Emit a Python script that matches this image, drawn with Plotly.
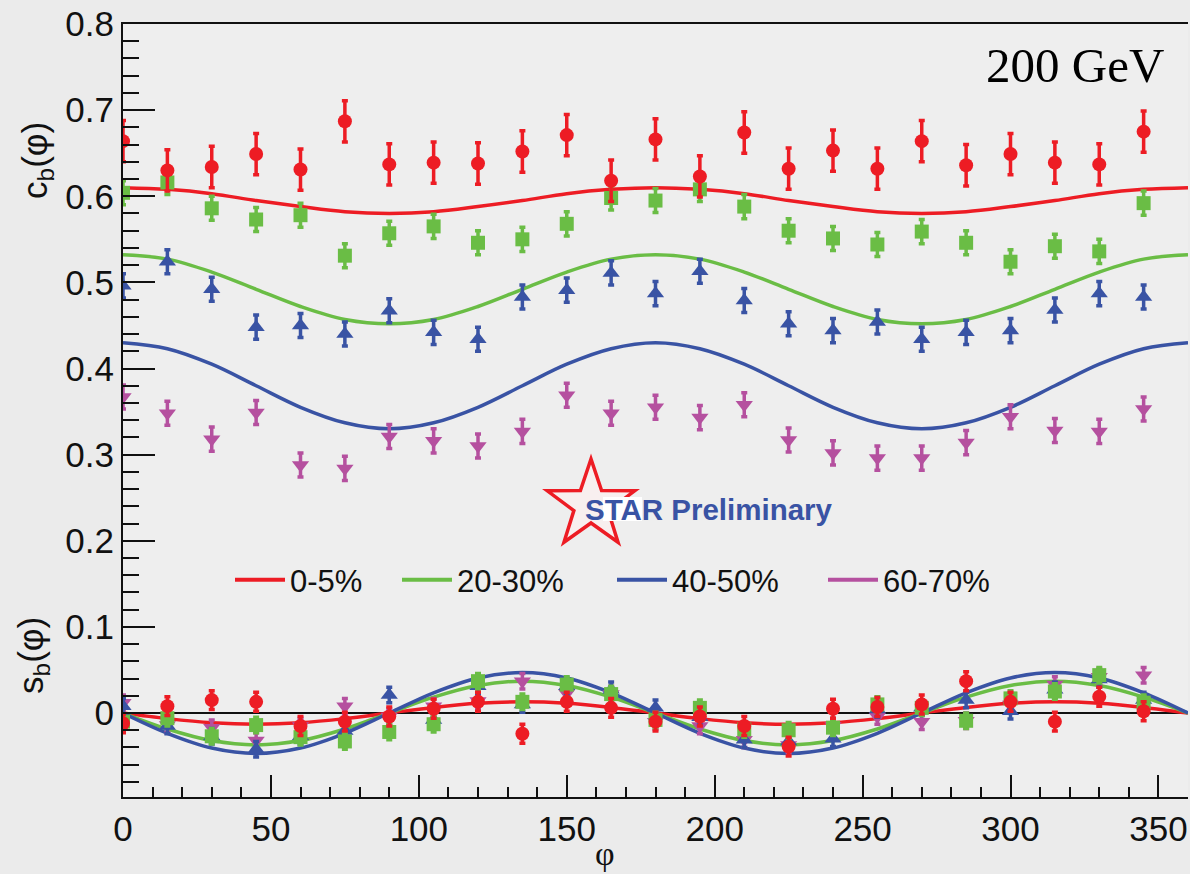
import math
import plotly.graph_objects as go

# ---------------- data ----------------
phi = [0, 15, 30, 45, 60, 75, 90, 105, 120, 135, 150, 165,
       180, 195, 210, 225, 240, 255, 270, 285, 300, 315, 330, 345]

c_05 = [0.664, 0.630, 0.634, 0.649, 0.631, 0.687, 0.637, 0.639, 0.638, 0.652, 0.671, 0.618,
        0.666, 0.623, 0.674, 0.632, 0.653, 0.632, 0.664, 0.636, 0.649, 0.639, 0.637, 0.675]
c_05_err = 0.024
c_2030 = [0.604, 0.616, 0.586, 0.573, 0.578, 0.531, 0.557, 0.565, 0.546, 0.550, 0.568, 0.598,
          0.595, 0.608, 0.588, 0.560, 0.551, 0.544, 0.559, 0.546, 0.524, 0.542, 0.536, 0.592]
c_2030_err = 0.014
c_4050 = [0.496, 0.524, 0.492, 0.448, 0.450, 0.440, 0.467, 0.442, 0.434, 0.483, 0.491, 0.511,
          0.487, 0.513, 0.479, 0.452, 0.444, 0.454, 0.434, 0.442, 0.444, 0.468, 0.487, 0.483]
c_4050_err = 0.014
c_6070 = [0.367, 0.348, 0.318, 0.349, 0.288, 0.284, 0.321, 0.316, 0.310, 0.327, 0.369, 0.348,
          0.355, 0.343, 0.358, 0.317, 0.302, 0.296, 0.296, 0.314, 0.344, 0.328, 0.327, 0.353]
c_6070_err = 0.014

s_05 = [-0.012, 0.008, 0.015, 0.013, -0.015, -0.010, -0.004, 0.005, 0.013, -0.024, 0.013, 0.006,
        -0.010, -0.004, -0.015, -0.039, 0.005, 0.007, 0.010, 0.037, 0.013, -0.010, 0.019, 0.002]
s_05_err = 0.011
s_2030 = [-0.010, -0.006, -0.027, -0.014, -0.028, -0.033, -0.022, -0.013, 0.037, 0.013, 0.033, 0.022,
          -0.008, 0.006, -0.019, -0.020, -0.017, 0.010, 0.006, -0.009, 0.017, 0.025, 0.044, 0.012]
s_2030_err = 0.009
s_4050 = [0.008, -0.015, -0.027, -0.042, -0.027, -0.021, 0.021, -0.008, 0.031, 0.010, 0.031, 0.027,
          0.006, -0.005, -0.031, -0.033, -0.030, 0.004, 0.006, 0.015, 0.002, 0.027, 0.039, 0.015]
s_4050_err = 0.009
s_6070 = [0.012, -0.014, -0.017, -0.032, -0.015, 0.008, -0.004, 0.008, 0.014, 0.037, 0.023, 0.022,
          -0.010, -0.015, -0.031, -0.037, -0.015, -0.004, -0.010, -0.009, 0.010, 0.033, 0.042, 0.044]
s_6070_err = 0.009

# fit curves (every 15 degrees)
phi_fit = [0, 15, 30, 45, 60, 75, 90, 105, 120, 135, 150, 165, 180,
           195, 210, 225, 240, 255, 270, 285, 300, 315, 330, 345, 360]
cfit_05 = [0.610, 0.608, 0.603, 0.595, 0.588, 0.582, 0.580, 0.582, 0.588, 0.595, 0.603, 0.608, 0.610,
           0.608, 0.603, 0.595, 0.588, 0.582, 0.580, 0.582, 0.588, 0.595, 0.603, 0.608, 0.610]
cfit_2030 = [0.532, 0.527, 0.512, 0.492, 0.472, 0.457, 0.452, 0.457, 0.472, 0.492, 0.512, 0.527, 0.532,
             0.527, 0.512, 0.492, 0.472, 0.457, 0.452, 0.457, 0.472, 0.492, 0.512, 0.527, 0.532]
cfit_4050 = [0.430, 0.423, 0.405, 0.380, 0.355, 0.337, 0.330, 0.337, 0.355, 0.380, 0.405, 0.423, 0.430,
             0.423, 0.405, 0.380, 0.355, 0.337, 0.330, 0.337, 0.355, 0.380, 0.405, 0.423, 0.430]
sfit_05 = [0, -0.0065, -0.0113, -0.013, -0.0113, -0.0065, 0, 0.0065, 0.0113, 0.013, 0.0113, 0.0065, 0,
           -0.0065, -0.0113, -0.013, -0.0113, -0.0065, 0, 0.0065, 0.0113, 0.013, 0.0113, 0.0065, 0]
sfit_2030 = [0, -0.0185, -0.032, -0.037, -0.032, -0.0185, 0, 0.0185, 0.032, 0.037, 0.032, 0.0185, 0,
             -0.0185, -0.032, -0.037, -0.032, -0.0185, 0, 0.0185, 0.032, 0.037, 0.032, 0.0185, 0]
sfit_4050 = [0, -0.0235, -0.0407, -0.047, -0.0407, -0.0235, 0, 0.0235, 0.0407, 0.047, 0.0407, 0.0235, 0,
             -0.0235, -0.0407, -0.047, -0.0407, -0.0235, 0, 0.0235, 0.0407, 0.047, 0.0407, 0.0235, 0]

labels = ["0-5%", "20-30%", "40-50%", "60-70%"]
xticks = [0, 50, 100, 150, 200, 250, 300, 350]
yticks = [0, 0.1, 0.2, 0.3, 0.4, 0.5, 0.6, 0.7, 0.8]
yticklabels = ["0", "0.1", "0.2", "0.3", "0.4", "0.5", "0.6", "0.7", "0.8"]

# ---------------- styles ----------------
RED, GREEN, BLUE, MAG = "#ed1c24", "#6abd45", "#3953a4", "#b5509f"
colors = [RED, GREEN, BLUE, MAG]
symbols = ["circle", "square", "triangle-up", "triangle-down"]
msizes = [14, 14, 15, 15]

W, H = 1190, 874
ML, MR, MT, MB = 123, 2, 24, 77
PW, PH = W - ML - MR, H - MT - MB
SANS = "Liberation Sans, Arial, sans-serif"
SERIF = "Liberation Serif, Times New Roman, serif"


def px2paper(x, y):
    return (x - ML) / PW, (H - MB - y) / PH


fig = go.Figure()

c_sets = [(c_05, c_05_err), (c_2030, c_2030_err), (c_4050, c_4050_err), (c_6070, c_6070_err)]
s_sets = [(s_05, s_05_err), (s_2030, s_2030_err), (s_4050, s_4050_err), (s_6070, s_6070_err)]
c_fits = [cfit_05, cfit_2030, cfit_4050]
s_fits = [sfit_05, sfit_2030, sfit_4050]

# fit curves
for i, (cf, sf) in enumerate(zip(c_fits, s_fits)):
    for f in (cf, sf):
        fig.add_trace(go.Scatter(x=phi_fit, y=f, mode="lines",
                                 line=dict(color=colors[i], width=3.5, shape="spline"),
                                 showlegend=False, hoverinfo="skip"))

# data points
for i in [3, 2, 1, 0]:
    for vals, err in (c_sets[i], s_sets[i]):
        fig.add_trace(go.Scatter(
            x=phi, y=vals, mode="markers",
            marker=dict(color=colors[i], symbol=symbols[i], size=msizes[i], line=dict(width=0)),
            error_y=dict(type="constant", value=err, color=colors[i], thickness=3.5, width=3),
            showlegend=False))

# legend entries: one legend per entry, placed like the original
legend_px = [230, 397, 612, 823]
legend_names = ["legend", "legend2", "legend3", "legend4"]
leg_layout = {}
for i in range(4):
    fig.add_trace(go.Scatter(x=[None], y=[None], mode="lines", name=labels[i],
                             line=dict(color=colors[i], width=4), legend=legend_names[i]))
    lx, ly = px2paper(legend_px[i], 580)
    leg_layout[legend_names[i]] = dict(
        x=lx, y=ly, xanchor="left", yanchor="middle", orientation="h",
        bgcolor="rgba(0,0,0,0)", itemwidth=50,
        font=dict(family=SANS, size=31, color="#111"))

# STAR logo: star outline + white patch behind the text
cx, cy, R, r = 591, 505, 46, 18
pts = []
for k in range(10):
    ang = math.pi / 2 + k * math.pi / 5
    rad = R if k % 2 == 0 else r
    pts.append(px2paper(cx + rad * math.cos(ang), cy - rad * math.sin(ang)))
path = "M " + " L ".join(f"{a:.5f},{b:.5f}" for a, b in pts) + " Z"
fig.add_shape(type="path", path=path, xref="paper", yref="paper",
              line=dict(color=RED, width=3.5), fillcolor="rgba(255,240,240,0.6)", layer="above")
bx0, by0 = px2paper(603, 521)
bx1, by1 = px2paper(642, 497)
fig.add_shape(type="rect", x0=bx0, y0=by0, x1=bx1, y1=by1, xref="paper", yref="paper",
              line=dict(width=0), fillcolor="white", layer="above")

sx, sy = px2paper(583, 510)
fig.add_annotation(x=sx, y=sy, xref="paper", yref="paper", text="<b>STAR Preliminary</b>", showarrow=False,
                   xanchor="left", yanchor="middle",
                   font=dict(family=SANS, size=29.5, color=BLUE))

gx, gy = px2paper(1166, 65)
fig.add_annotation(x=gx, y=gy, xref="paper", yref="paper", text="200 GeV", showarrow=False,
                   xanchor="right", yanchor="middle",
                   font=dict(family=SERIF, size=49, color="black"))

cxl, cyl = px2paper(37, 161)
fig.add_annotation(x=cxl, y=cyl, xref="paper", yref="paper", text="c<sub>b</sub>(φ)", showarrow=False,
                   xanchor="center", yanchor="middle",
                   textangle=-90, font=dict(family=SANS, size=35, color="#111"))
sxl, syl = px2paper(33, 656)
fig.add_annotation(x=sxl, y=syl, xref="paper", yref="paper", text="s<sub>b</sub>(φ)", showarrow=False,
                   xanchor="center", yanchor="middle",
                   textangle=-90, font=dict(family=SANS, size=35, color="#111"))
pxl, pyl = px2paper(605, 853)
fig.add_annotation(x=pxl, y=pyl, xref="paper", yref="paper", text="φ", showarrow=False,
                   xanchor="center", yanchor="middle",
                   font=dict(family=SERIF, size=34, color="#111"))

tickfont = dict(family=SANS, size=35, color="#111")
fig.update_layout(
    width=W, height=H,
    margin=dict(l=ML, r=MR, t=MT, b=MB),
    paper_bgcolor="#ebebeb", plot_bgcolor="#eeeeee",
    xaxis=dict(range=[0, 360], tickvals=xticks, ticks="inside", ticklen=22, tickwidth=2, tickcolor="#111",
               minor=dict(dtick=10, ticks="inside", ticklen=10, tickwidth=2, tickcolor="#111"),
               showline=True, linewidth=2, linecolor="#111", mirror=True, showgrid=False, zeroline=False,
               tickfont=tickfont),
    yaxis=dict(range=[-0.0975, 0.8], tickvals=yticks, ticktext=yticklabels, ticks="inside", ticklen=32,
               tickwidth=2, tickcolor="#111",
               minor=dict(dtick=0.02, ticks="inside", ticklen=16, tickwidth=2, tickcolor="#111"),
               showline=True, linewidth=2, linecolor="#111", showgrid=False,
               zeroline=True, zerolinecolor="#111", zerolinewidth=2, tickfont=tickfont),
    **leg_layout,
)

fig.write_html("out.html")
